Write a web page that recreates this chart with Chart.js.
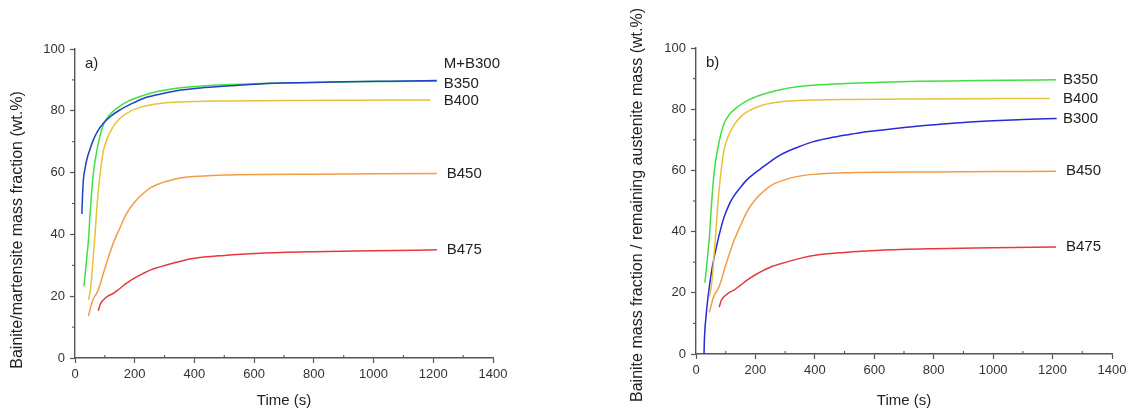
<!DOCTYPE html>
<html>
<head>
<meta charset="utf-8">
<script src="https://cdn.jsdelivr.net/npm/chart.js@4/dist/chart.umd.min.js"></script>
<style>
  html, body { margin: 0; padding: 0; background: #fff; }
  canvas { display: block; }
  #wrapA { position: absolute; left: 0; top: 0; width: 620px; height: 410px; }
  #wrapB { position: absolute; left: 620px; top: 0; width: 512px; height: 410px; }
</style>
</head>
<body>
<div id="wrapA"><canvas id="chartA" width="620" height="410" style="width:620px;height:410px"></canvas></div>
<div id="wrapB"><canvas id="chartB" width="512" height="410" style="width:512px;height:410px"></canvas></div>
<script>
// ---------- DATA ----------
const xTicks = [0, 200, 400, 600, 800, 1000, 1200, 1400];
const yTicks = [0, 20, 40, 60, 80, 100];

// Panel a) M+B300
const tMB300 = [23, 25, 28, 33, 39, 50, 61, 75, 95, 120, 151, 190, 229, 280, 340, 420, 520, 620, 750, 900, 1050, 1212];
const vMB300 = [46.6, 52, 57.6, 61, 64, 67.5, 70.5, 73.3, 76, 78.3, 80.3, 82.3, 84, 85.3, 86.5, 87.4, 88.1, 88.7, 89.1, 89.4, 89.6, 89.8];

// B350
const tB350 = [30, 35, 40, 45, 50, 56, 63, 73, 84, 95, 115, 140, 180, 229, 280, 340, 420, 520, 620, 750, 900, 1050, 1212];
const vB350 = [23.3, 28, 33, 38, 46, 54, 61, 67, 72, 75.5, 78.6, 80.8, 83.2, 85, 86.3, 87.3, 88, 88.5, 88.8, 89.1, 89.3, 89.5, 89.6];

// B400
const tB400 = [45, 50, 55, 61, 67, 72, 78, 86, 95, 110, 128, 150, 173, 220, 285, 396, 500, 700, 900, 1050, 1190];
const vB400 = [18.8, 21, 25, 32.8, 40, 47, 54, 61, 67, 71.5, 74.9, 77.5, 79.2, 81.2, 82.4, 83, 83.2, 83.3, 83.4, 83.5, 83.5];

// B450
const tB450 = [45, 50, 56, 63, 73, 85, 95, 110, 128, 150, 173, 200, 229, 255, 285, 330, 396, 500, 620, 800, 1000, 1212];
const vB450 = [13.6, 15.5, 17.7, 19.5, 21, 24, 27.4, 32, 37.1, 42, 46.8, 50.5, 53.3, 55.2, 56.5, 57.8, 58.7, 59.2, 59.4, 59.5, 59.6, 59.7];

// B475
const tB475 = [78, 85, 95, 110, 128, 150, 173, 200, 229, 255, 285, 340, 396, 500, 620, 800, 1000, 1212];
const vB475 = [15.3, 17.5, 18.8, 20, 20.9, 22.5, 24.2, 25.9, 27.4, 28.6, 29.5, 31, 32.2, 33.2, 33.9, 34.4, 34.7, 35.0];

// Panel b) B300 (relative to remaining austenite)
const tB300 = [27, 28, 30, 33, 38, 45, 54, 64, 77, 92, 110, 126, 150, 171, 200, 227, 255, 283, 340, 395, 450, 507, 552, 619, 700, 800, 889, 1000, 1100, 1214];
const vB300 = [0, 4, 8, 11.5, 16.5, 22, 28, 32.9, 38.5, 44, 48.5, 51.4, 54.5, 56.9, 59.3, 61.2, 63.2, 65, 67.5, 69.4, 70.6, 71.6, 72.3, 73.1, 74, 74.9, 75.6, 76.2, 76.6, 77];

const labelsA = ['M+B300', 'B350', 'B400', 'B450', 'B475'];
const labelsB = ['B350', 'B400', 'B300', 'B450', 'B475'];

// ---------- STYLE ----------
const COL = { blue: '#2a2ad6', blueA: '#2340c8', green: '#3fe03f', yellow: '#e6c23a', orange: '#f49c45', red: '#e8383c' };
const FONT = "'Liberation Sans', Arial, sans-serif";

function xy(t, v) { return t.map((x, i) => ({ x: x, y: v[i] })); }
function ds(label, t, v, color) {
  return { label: label, data: xy(t, v), borderColor: color, borderWidth: 1.5, pointRadius: 0,
           fill: false, cubicInterpolationMode: 'monotone' };
}

function makeOptions(yWidth, padTop, padRight, xHeight) {
  return {
    responsive: false, animation: false, maintainAspectRatio: false, devicePixelRatio: 1,
    layout: { padding: { top: padTop, right: padRight, left: 0, bottom: 0 } },
    plugins: { legend: { display: false }, tooltip: { enabled: false } },
    scales: {
      x: {
        type: 'linear', min: 0, max: 1400,
        afterBuildTicks: s => { s.ticks = xTicks.map(v => ({ value: v })); },
        afterFit: s => { s.height = xHeight; },
        grid: { display: true, drawOnChartArea: false, drawTicks: true, tickLength: 5, tickColor: '#555', tickWidth: 1.2 },
        border: { display: true, color: '#555', width: 1.4 },
        ticks: { color: '#333', font: { family: FONT, size: 13 }, padding: 4, maxRotation: 0, autoSkip: false,
                 callback: v => String(v) },
        title: { display: true, text: 'Time (s)', color: '#222', font: { family: FONT, size: 15 }, padding: { top: 0, bottom: 0 } }
      },
      y: {
        type: 'linear', min: 0, max: 100,
        afterBuildTicks: s => { s.ticks = yTicks.map(v => ({ value: v })); },
        afterFit: s => { s.width = yWidth; },
        grid: { display: true, drawOnChartArea: false, drawTicks: true, tickLength: 5, tickColor: '#555', tickWidth: 1.2 },
        border: { display: true, color: '#555', width: 1.4 },
        ticks: { color: '#333', font: { family: FONT, size: 13 }, padding: 5, autoSkip: false, callback: v => String(v) }
      }
    }
  };
}

function decorPlugin(cfg) {
  return {
    id: 'decor',
    afterDraw(chart) {
      const ctx = chart.ctx, xs = chart.scales.x, ys = chart.scales.y;
      const ca = chart.chartArea;
      ctx.save();
      // minor ticks
      ctx.strokeStyle = '#555'; ctx.lineWidth = 1.1;
      for (let v = 100; v < 1400; v += 200) {
        const px = xs.getPixelForValue(v);
        ctx.beginPath(); ctx.moveTo(px, ca.bottom); ctx.lineTo(px, ca.bottom - 3); ctx.stroke();
      }
      for (let v = 10; v < 100; v += 20) {
        const py = ys.getPixelForValue(v);
        ctx.beginPath(); ctx.moveTo(ca.left, py); ctx.lineTo(ca.left - 3, py); ctx.stroke();
      }
      // panel letter
      ctx.fillStyle = '#222';
      ctx.font = '15px ' + FONT;
      ctx.textBaseline = 'middle'; ctx.textAlign = 'left';
      ctx.fillText(cfg.panel, ca.left + 10, ca.top + 15);
      // curve labels
      chart.data.datasets.forEach((d, i) => {
        const last = d.data[d.data.length - 1];
        const px = xs.getPixelForValue(1235) + (cfg.lblDx[i] || 0);
        const py = ys.getPixelForValue(last.y) + (cfg.lblDy[i] || 0);
        ctx.fillText(cfg.labels[i], px, py);
      });
      // y title
      ctx.save();
      ctx.translate(18, cfg.titleY);
      ctx.rotate(-Math.PI / 2);
      ctx.textAlign = 'center'; ctx.textBaseline = 'middle';
      ctx.font = cfg.titleSize + 'px ' + FONT;
      ctx.fillText(cfg.yTitle, 0, 0);
      ctx.restore();
      ctx.restore();
    }
  };
}

// ---------- CHART A ----------
new Chart(document.getElementById('chartA'), {
  type: 'line',
  data: { datasets: [
    ds('M+B300', tMB300, vMB300, COL.blueA),
    ds('B350', tB350, vB350, COL.green),
    ds('B400', tB400, vB400, COL.yellow),
    ds('B450', tB450, vB450, COL.orange),
    ds('B475', tB475, vB475, COL.red)
  ] },
  options: makeOptions(75, 49, 127, 52),
  plugins: [decorPlugin({ panel: 'a)', labels: labelsA, lblDx: [0, 0, 0, 3, 3], lblDy: [-17, 3, 1, 0, 0],
    yTitle: 'Bainite/martensite mass fraction (wt.%)', titleY: 230, titleSize: 16 })]
});

// ---------- CHART B ----------
new Chart(document.getElementById('chartB'), {
  type: 'line',
  data: { datasets: [
    ds('B350', tB350, vB350, COL.green),
    ds('B400', tB400, vB400, COL.yellow),
    ds('B300', tB300, vB300, COL.blue),
    ds('B450', tB450, vB450, COL.orange),
    ds('B475', tB475, vB475, COL.red)
  ] },
  options: makeOptions(76, 48, 20, 56),
  plugins: [decorPlugin({ panel: 'b)', labels: labelsB, lblDx: [0, 0, 0, 3, 3], lblDy: [0, 0, 0, 0, 0],
    yTitle: 'Bainite mass fraction / remaining austenite mass (wt.%)', titleY: 205, titleSize: 16 })]
});
</script>
</body>
</html>
